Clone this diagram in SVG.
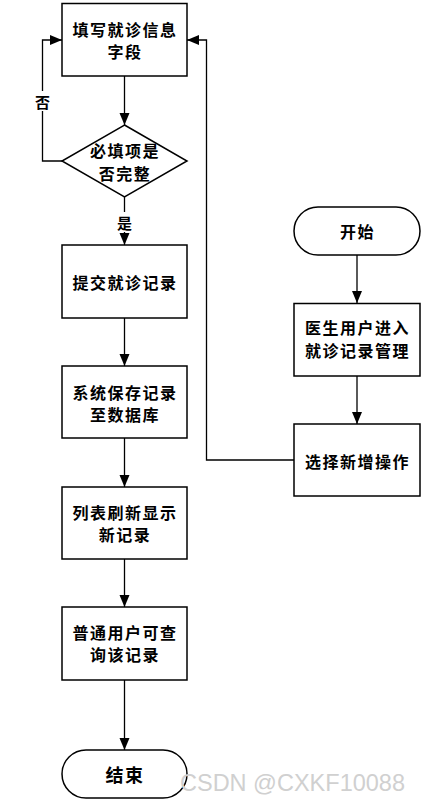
<svg xmlns="http://www.w3.org/2000/svg" width="423" height="802" viewBox="0 0 423 802">
<defs>
<marker id="arr" markerUnits="userSpaceOnUse" markerWidth="12" markerHeight="12" viewBox="0 0 12 10" refX="12" refY="5" orient="auto">
<path d="M0,0 L12,5 L0,10 z" fill="#000"/>
</marker>
<style>
.n{fill:#fff;stroke:#000;stroke-width:1.5}
.t{font-family:"Noto Sans CJK SC","Noto Sans CJK JP",sans-serif;font-weight:bold;font-size:16px;letter-spacing:1.5px;text-anchor:middle;dominant-baseline:central;fill:#000}
.c{fill:none;stroke:#000;stroke-width:1.3;marker-end:url(#arr)}
.lb{font-family:"Noto Sans CJK SC",sans-serif;font-weight:bold;font-size:15px;text-anchor:middle;dominant-baseline:central;fill:#000}
</style>
</defs>
<rect width="423" height="802" fill="#fff"/>
<g id="connectors">
<path class="c" d="M124.5,76 V125"/>
<path class="c" d="M124.5,197 V245"/>
<path class="c" d="M62,161 H42.5 V40 H62"/>
<path class="c" d="M124.5,318 V366"/>
<path class="c" d="M124.5,438 V487"/>
<path class="c" d="M124.5,559 V607"/>
<path class="c" d="M124.5,680 V750"/>
<path class="c" d="M357,255 V303"/>
<path class="c" d="M357,376 V424"/>
<path class="c" d="M294,460 H206.5 V40 H187"/>
<rect x="35" y="91" width="16" height="20" fill="#fff"/>
<text class="lb" x="42.5" y="101">否</text>
<rect x="116" y="212" width="17" height="20" fill="#fff"/>
<text class="lb" x="124.5" y="222">是</text>
</g>
<g id="fill-info">
<rect class="n" x="62" y="3.5" width="125" height="72.5"/>
<text class="t" x="125" y="29">填写就诊信息</text>
<text class="t" x="125" y="51">字段</text>
</g>
<g id="check">
<polygon class="n" points="124.5,125 187,161 124.5,197 62,161"/>
<text class="t" x="125" y="150">必填项是</text>
<text class="t" x="125" y="173">否完整</text>
</g>
<g id="submit">
<rect class="n" x="62" y="245" width="125" height="73"/>
<text class="t" x="125" y="282">提交就诊记录</text>
</g>
<g id="save">
<rect class="n" x="62" y="366" width="125" height="72"/>
<text class="t" x="125" y="391.5">系统保存记录</text>
<text class="t" x="125" y="413.5">至数据库</text>
</g>
<g id="refresh">
<rect class="n" x="62" y="487" width="125" height="72"/>
<text class="t" x="125" y="512">列表刷新显示</text>
<text class="t" x="125" y="534">新记录</text>
</g>
<g id="query">
<rect class="n" x="62" y="607" width="125" height="73"/>
<text class="t" x="125" y="632">普通用户可查</text>
<text class="t" x="125" y="654">询该记录</text>
</g>
<g id="end">
<rect class="n" x="62" y="750" width="125" height="48" rx="24"/>
<text class="t" x="125" y="774" style="font-size:18px">结束</text>
</g>
<g id="start">
<rect class="n" x="294" y="207" width="126" height="48" rx="24"/>
<text class="t" x="357.5" y="231">开始</text>
</g>
<g id="enter">
<rect class="n" x="294" y="303.5" width="126" height="72.5"/>
<text class="t" x="357.5" y="327">医生用户进入</text>
<text class="t" x="357.5" y="350">就诊记录管理</text>
</g>
<g id="add">
<rect class="n" x="294" y="424" width="126" height="72"/>
<text class="t" x="357.5" y="461">选择新增操作</text>
</g>
<text x="180" y="791" textLength="225" lengthAdjust="spacingAndGlyphs" style="font-family:'Liberation Sans',sans-serif;font-size:24px;fill:#d0d0d0">CSDN @CXKF10088</text>
</svg>
